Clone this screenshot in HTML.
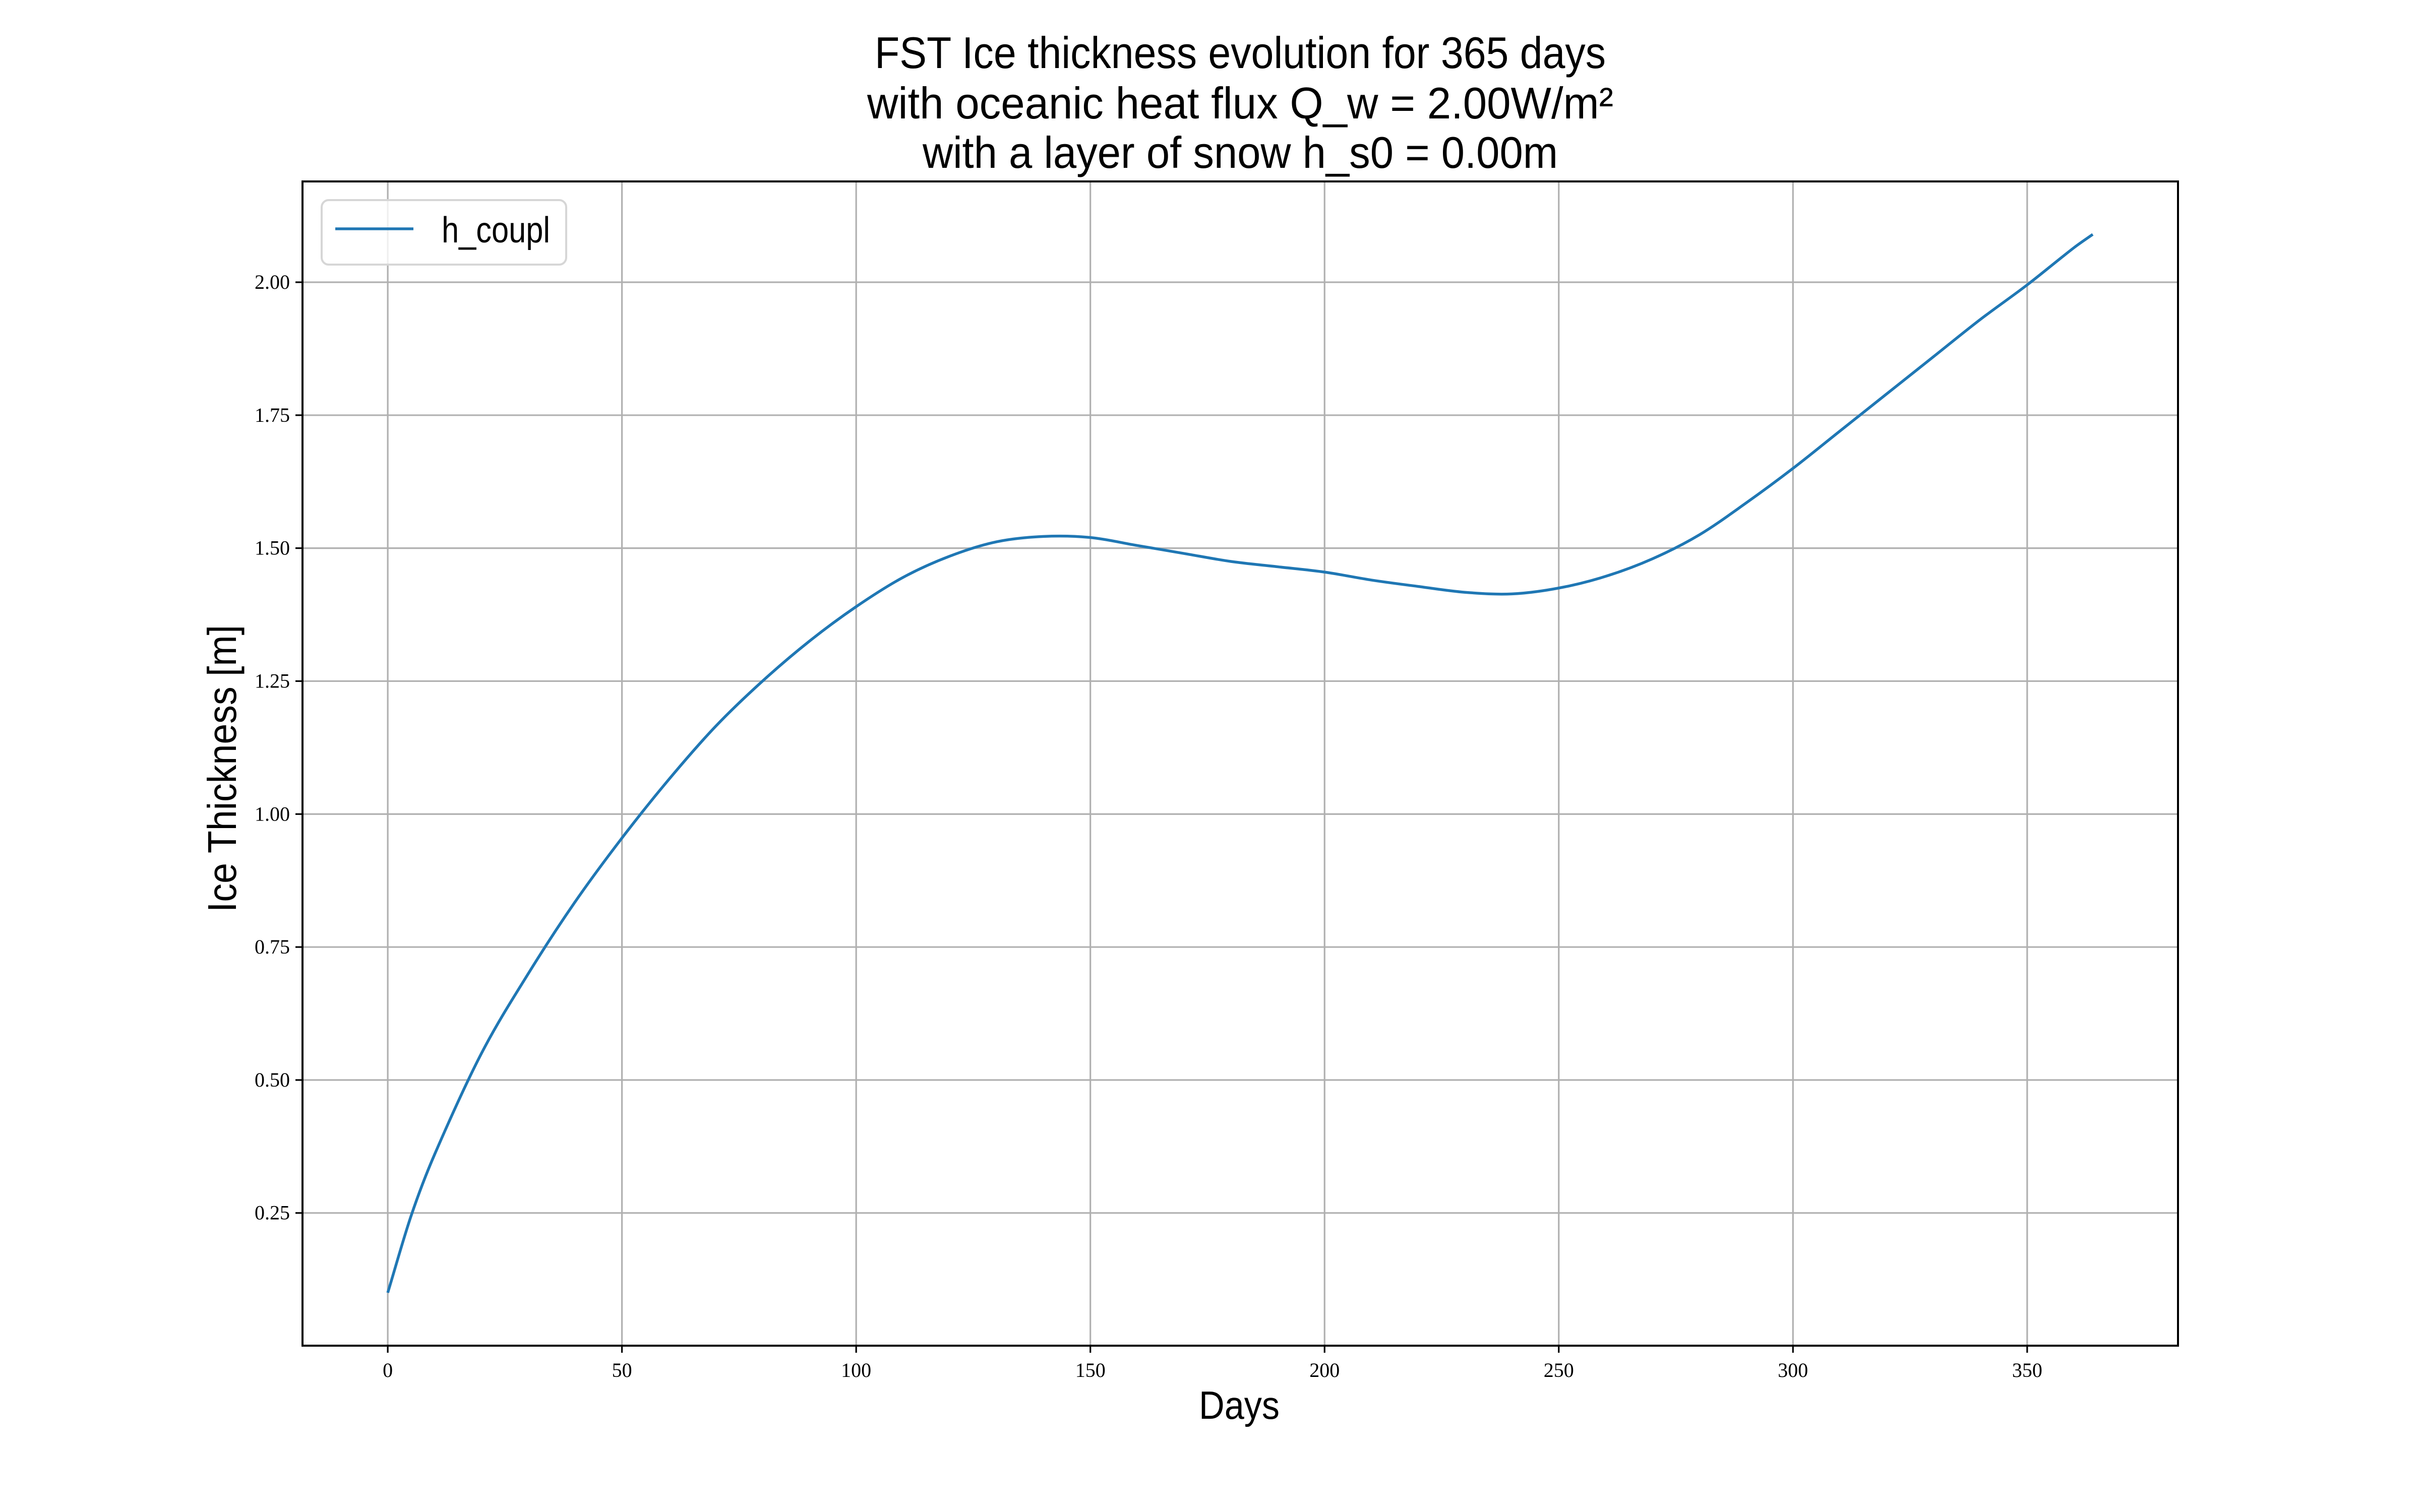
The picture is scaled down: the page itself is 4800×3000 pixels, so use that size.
<!DOCTYPE html>
<html><head><meta charset="utf-8"><style>
html,body{margin:0;padding:0;background:#fff;}
svg{display:block;}
</style></head><body>
<svg id="chart" width="4800" height="3000" viewBox="0 0 4800 3000" xmlns="http://www.w3.org/2000/svg">
<rect width="4800" height="3000" fill="#fff"/>
<g font-family="'Liberation Sans', sans-serif" text-anchor="middle" fill="#000">
<text x="2460" y="135" font-size="88" textLength="1450" lengthAdjust="spacingAndGlyphs">FST Ice thickness evolution for 365 days</text>
<text x="2460" y="235" font-size="88" textLength="1480" lengthAdjust="spacingAndGlyphs">with oceanic heat flux Q_w = 2.00W/m²</text>
<text x="2460" y="333" font-size="88" textLength="1260" lengthAdjust="spacingAndGlyphs">with a layer of snow h_s0 = 0.00m</text>
</g>
<g id="grid"></g>
<g id="ticks"></g>
<path id="series" fill="none" stroke="#1f77b4" stroke-width="5.5" stroke-linejoin="round"/>
<rect x="600" y="360" width="3720" height="2310" fill="none" stroke="#000" stroke-width="4"/>
<g>
<rect x="638" y="397" width="485" height="128" rx="14" fill="#fff" fill-opacity="0.8" stroke="#d6d6d6" stroke-width="4"/>
<line x1="665" y1="454" x2="820" y2="454" stroke="#1f77b4" stroke-width="5.5"/>
<text x="876" y="481" font-family="'Liberation Sans', sans-serif" font-size="72" textLength="215" lengthAdjust="spacingAndGlyphs">h_coupl</text>
</g>
<text x="2458" y="2815" font-family="'Liberation Sans', sans-serif" font-size="78" text-anchor="middle" textLength="160" lengthAdjust="spacingAndGlyphs">Days</text>
<text transform="translate(468,1525) rotate(-90)" font-family="'Liberation Sans', sans-serif" font-size="80" text-anchor="middle" textLength="570" lengthAdjust="spacingAndGlyphs">Ice Thickness [m]</text>
</svg>
<script>
const days = [0,5,10,20,30,40,50,60,70,80,90,100,110,120,130,140,150,160,170,180,190,200,210,220,230,240,250,260,270,280,290,300,310,320,330,340,350,360,364];
const thickness = [0.10,0.245,0.36,0.55,0.70,0.835,0.955,1.065,1.165,1.25,1.325,1.39,1.445,1.485,1.512,1.522,1.52,1.505,1.49,1.475,1.465,1.455,1.44,1.428,1.417,1.414,1.425,1.447,1.48,1.525,1.585,1.65,1.72,1.79,1.86,1.93,1.995,2.065,2.09];
const xTicks = [0,50,100,150,200,250,300,350];
const yTicks = [0.25,0.5,0.75,1.0,1.25,1.5,1.75,2.0];
const xTickLabels = ["0","50","100","150","200","250","300","350"];
const yTickLabels = ["0.25","0.50","0.75","1.00","1.25","1.50","1.75","2.00"];

const NS = "http://www.w3.org/2000/svg";
const L=600,R=4320,T=360,B=2670;
const xmin0=Math.min(...days), xmax0=Math.max(...days);
const ymin0=Math.min(...thickness), ymax0=Math.max(...thickness);
const xm=(xmax0-xmin0)*0.05, ym=(ymax0-ymin0)*0.05;
const xLo=xmin0-xm, xHi=xmax0+xm, yLo=ymin0-ym, yHi=ymax0+ym;
function sx(v){return L+(v-xLo)/(xHi-xLo)*(R-L);}
function sy(v){return B-(v-yLo)/(yHi-yLo)*(B-T);}

const grid=document.getElementById('grid');
const ticks=document.getElementById('ticks');
function mk(tag,attrs,parent){const e=document.createElementNS(NS,tag);for(const k in attrs)e.setAttribute(k,attrs[k]);parent.appendChild(e);return e;}

xTicks.forEach((v,i)=>{
  const x=sx(v);
  const g=mk('line',{x1:x,x2:x,y1:T,y2:B,stroke:'#b0b0b0','stroke-width':3.2},grid);
  
  
  const t=mk('line',{x1:x,x2:x,y1:B,y2:B+14,stroke:'#000','stroke-width':3.2},ticks);
  
  
  const lb=mk('text',{x:x,y:B+62,'font-family':"'Liberation Serif', serif",'font-size':40,'text-anchor':'middle'},ticks);
  lb.textContent=xTickLabels[i];
  
  
});
yTicks.forEach((v,i)=>{
  const y=sy(v);
  const g=mk('line',{x1:L,x2:R,y1:y,y2:y,stroke:'#b0b0b0','stroke-width':3.2},grid);
  
  
  const t=mk('line',{x1:L-14,x2:L,y1:y,y2:y,stroke:'#000','stroke-width':3.2},ticks);
  
  
  const lb=mk('text',{x:575,y:y+13,'font-family':"'Liberation Serif', serif",'font-size':40,'text-anchor':'end'},ticks);
  lb.textContent=yTickLabels[i];
  
  
});

const pts=days.map((d,i)=>[sx(d),sy(thickness[i])]);
let d='M'+pts[0][0]+','+pts[0][1];
for(let i=0;i<pts.length-1;i++){
  const p0=pts[Math.max(0,i-1)],p1=pts[i],p2=pts[i+1],p3=pts[Math.min(pts.length-1,i+2)];
  const h=p2[0]-p1[0];
  const m1=(p2[1]-p0[1])/(p2[0]-p0[0]||1), m2=(p3[1]-p1[1])/(p3[0]-p1[0]||1);
  const c1=[p1[0]+h/3,p1[1]+m1*h/3];
  const c2=[p2[0]-h/3,p2[1]-m2*h/3];
  d+=' C'+c1[0]+','+c1[1]+' '+c2[0]+','+c2[1]+' '+p2[0]+','+p2[1];
}
document.getElementById('series').setAttribute('d',d);
</script>
</body></html>
